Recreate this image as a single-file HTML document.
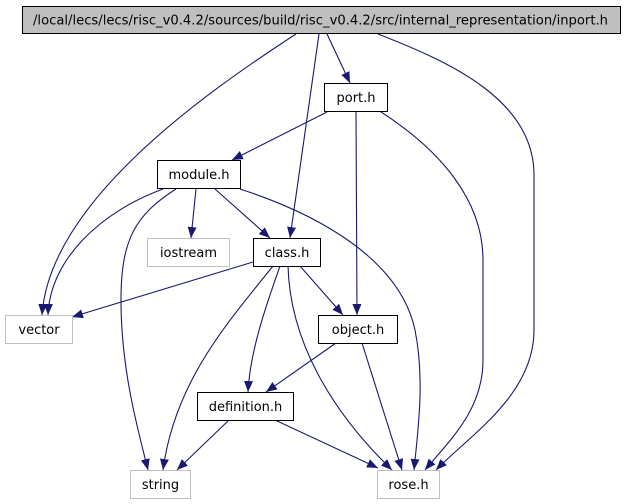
<!DOCTYPE html>
<html><head><meta charset="utf-8"><style>
html,body{margin:0;padding:0;background:#fff;}
svg{display:block;}
text{font-family:"DejaVu Sans","Liberation Sans",sans-serif;font-size:13px;fill:#000;}
</style></head><body>
<svg width="625" height="504" viewBox="0 0 625 504" xmlns="http://www.w3.org/2000/svg">
<defs>
<marker id="a" markerWidth="11" markerHeight="9" refX="11" refY="4.5" orient="auto" markerUnits="userSpaceOnUse">
<path d="M0,0 L11,4.5 L0,9 z" fill="#191970"/>
</marker>
</defs>
<g fill="none" stroke="#191970" stroke-width="1.1" marker-end="url(#a)">
<path d="M296,34 C210,90 50,200 42,315"/>
<path d="M319,34 L290,238"/>
<path d="M327,34 L350,83"/>
<path d="M378,34 C450,62 534,100 534,175 L534,330 C534,395 470,435 436,470"/>
<path d="M327,112 L232,160"/>
<path d="M356,111 L357,315"/>
<path d="M381,112 C440,150 483,200 483,260 L483,360 C483,410 450,440 425,470"/>
<path d="M163,189 C100,212 50,260 48,315"/>
<path d="M176,189 C135,215 121,240 121,300 C121,370 138,430 148,470"/>
<path d="M196,189 L191,238"/>
<path d="M215,189 L270,238"/>
<path d="M240,189 C320,215 400,260 415,330 C425,380 418,430 414,470"/>
<path d="M253,262 L72,317"/>
<path d="M273,266 C230,320 175,380 163,470"/>
<path d="M280,266 C268,300 250,350 248,392"/>
<path d="M300,266 L343,315"/>
<path d="M288,266 C290,340 330,410 392,470"/>
<path d="M336,343 L266,392"/>
<path d="M362,343 L402,470"/>
<path d="M229,420 L177,470"/>
<path d="M275,420 L378,468"/>
</g>
<g stroke-width="1">
<rect x="22.5" y="6.5" width="598" height="27" fill="#bfbfbf" stroke="#000"/>
<rect x="324.5" y="83.5" width="63" height="28" fill="#fff" stroke="#000"/>
<rect x="157.5" y="160.5" width="83" height="28" fill="#fff" stroke="#000"/>
<rect x="147.5" y="238.5" width="82" height="28" fill="#fff" stroke="#bfbfbf"/>
<rect x="253.5" y="238.5" width="67" height="28" fill="#fff" stroke="#000"/>
<rect x="5.5" y="315.5" width="67" height="28" fill="#fff" stroke="#bfbfbf"/>
<rect x="318.5" y="315.5" width="79" height="28" fill="#fff" stroke="#000"/>
<rect x="197.5" y="392.5" width="96" height="28" fill="#fff" stroke="#000"/>
<rect x="130.5" y="470.5" width="60" height="28" fill="#fff" stroke="#bfbfbf"/>
<rect x="377.5" y="470.5" width="62" height="28" fill="#fff" stroke="#bfbfbf"/>
</g>
<text x="33" y="24.5" textLength="575" lengthAdjust="spacingAndGlyphs">/local/lecs/lecs/risc_v0.4.2/sources/build/risc_v0.4.2/src/internal_representation/inport.h</text>
<g text-anchor="middle">
<text x="356" y="102">port.h</text>
<text x="199" y="179">module.h</text>
<text x="188.5" y="257">iostream</text>
<text x="287" y="257">class.h</text>
<text x="39" y="334">vector</text>
<text x="358" y="334">object.h</text>
<text x="245.5" y="411">definition.h</text>
<text x="160.5" y="489">string</text>
<text x="408.5" y="489">rose.h</text>
</g>
</svg>
</body></html>
